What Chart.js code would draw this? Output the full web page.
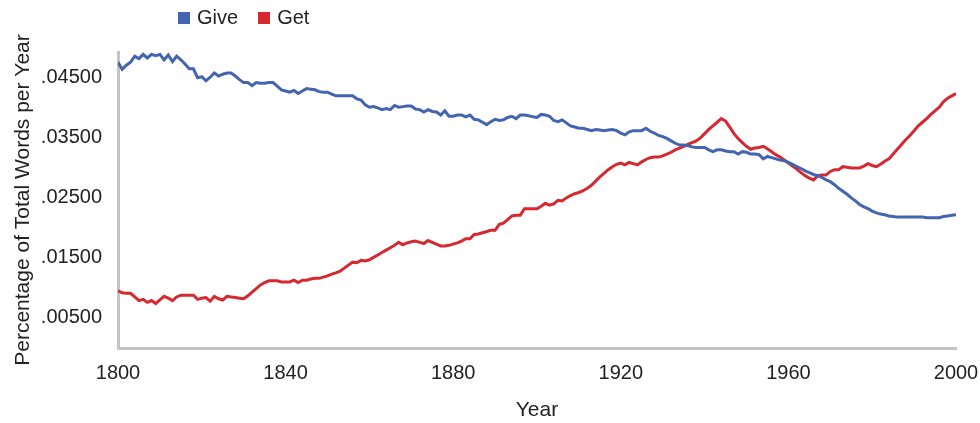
<!DOCTYPE html>
<html>
<head>
<meta charset="utf-8">
<script src="https://cdn.jsdelivr.net/npm/chart.js@4/dist/chart.umd.min.js"></script>
<style>
    html, body { margin: 0; padding: 0; background: #fff; }
    #wrap { position: relative; width: 980px; height: 423px; }
    #legend { position: absolute; left: 178px; top: 6px; display: flex; font: 20px "Liberation Sans", Arial, sans-serif; color: #222; }
    #legend .item { display: flex; align-items: center; margin-right: 20px; }
    #legend .box { width: 12px; height: 12px; margin-right: 7px; }
</style>
</head>
<body>
<div id="wrap">
    <canvas id="wordChart" width="980" height="423"></canvas>
    <div id="legend"></div>
</div>
<script>
// Give vs Get, share of all words per year, 1800-2000
const startYear = 1800;
const endYear = 2000;
const xTickStep = 40;
const yTickValues = [0.005, 0.015, 0.025, 0.035, 0.045];

const giveValues = [
    0.0476, 0.0464, 0.0471, 0.0476, 0.0486, 0.0482, 0.0489, 0.0483, 0.0489, 0.0487,
    0.0489, 0.0480, 0.0488, 0.0477, 0.0486, 0.0480, 0.0473, 0.0465, 0.0465, 0.0450,
    0.0452, 0.0445, 0.0451, 0.0458, 0.0453, 0.0456, 0.0458, 0.0458, 0.0453, 0.0447,
    0.0442, 0.0442, 0.0437, 0.0442, 0.0441, 0.0441, 0.0442, 0.0442, 0.0436, 0.0430,
    0.0428, 0.0426, 0.0429, 0.0424, 0.0428, 0.0432, 0.0431, 0.0430, 0.0427, 0.0426,
    0.0426, 0.0423, 0.0420, 0.0420, 0.0420, 0.0420, 0.0420, 0.0415, 0.0413, 0.0405,
    0.0401, 0.0402, 0.0400, 0.0397, 0.0399, 0.0397, 0.0404, 0.0401, 0.0402, 0.0403,
    0.0403, 0.0398, 0.0397, 0.0393, 0.0397, 0.0394, 0.0393, 0.0388, 0.0395, 0.0386,
    0.0386, 0.0388, 0.0388, 0.0385, 0.0388, 0.0381, 0.0380, 0.0376, 0.0372, 0.0377,
    0.0381, 0.0379, 0.0380, 0.0384, 0.0386, 0.0382, 0.0388, 0.0388, 0.0387, 0.0385,
    0.0384, 0.0389, 0.0388, 0.0386, 0.0379, 0.0377, 0.0380, 0.0375, 0.0370, 0.0368,
    0.0366, 0.0366, 0.0364, 0.0362, 0.0364, 0.0363, 0.0362, 0.0363, 0.0364, 0.0362,
    0.0358, 0.0355, 0.0360, 0.0362, 0.0362, 0.0362, 0.0366, 0.0361, 0.0358, 0.0354,
    0.0352, 0.0349, 0.0345, 0.0341, 0.0338, 0.0338, 0.0337, 0.0335, 0.0334, 0.0334,
    0.0334, 0.0330, 0.0327, 0.0330, 0.0330, 0.0328, 0.0327, 0.0327, 0.0323, 0.0327,
    0.0326, 0.0323, 0.0323, 0.0322, 0.0315, 0.0319, 0.0317, 0.0315, 0.0313, 0.0312,
    0.0309, 0.0306, 0.0302, 0.0299, 0.0295, 0.0292, 0.0289, 0.0287, 0.0284, 0.0280,
    0.0277, 0.0272, 0.0266, 0.0261, 0.0256, 0.0250, 0.0245, 0.0239, 0.0235, 0.0232,
    0.0228, 0.0225, 0.0223, 0.0222, 0.0220, 0.0219, 0.0218, 0.0218, 0.0218, 0.0218,
    0.0218, 0.0218, 0.0218, 0.0217, 0.0217, 0.0217, 0.0217, 0.0219, 0.0220, 0.0221,
    0.0222
];

const getValues = [
    0.0095, 0.0092, 0.0091, 0.0091, 0.0085, 0.0079, 0.0081, 0.0076, 0.0079, 0.0074,
    0.0080, 0.0086, 0.0083, 0.0079, 0.0085, 0.0088, 0.0088, 0.0088, 0.0088, 0.0081,
    0.0083, 0.0084, 0.0078, 0.0086, 0.0082, 0.0080, 0.0086, 0.0085, 0.0084, 0.0083,
    0.0082, 0.0087, 0.0093, 0.0099, 0.0105, 0.0109, 0.0112, 0.0112, 0.0112, 0.0110,
    0.0110, 0.0110, 0.0113, 0.0109, 0.0113, 0.0113, 0.0115, 0.0116, 0.0116, 0.0118,
    0.0120, 0.0123, 0.0125, 0.0128, 0.0133, 0.0138, 0.0143, 0.0142, 0.0146, 0.0145,
    0.0147, 0.0151, 0.0155, 0.0159, 0.0163, 0.0167, 0.0171, 0.0176, 0.0172, 0.0175,
    0.0177, 0.0178, 0.0176, 0.0174, 0.0179, 0.0176, 0.0173, 0.0170, 0.0170, 0.0171,
    0.0173, 0.0175, 0.0178, 0.0182, 0.0182, 0.0189, 0.0190, 0.0192, 0.0194, 0.0196,
    0.0196, 0.0206, 0.0208, 0.0214, 0.0220, 0.0221, 0.0221, 0.0232, 0.0232, 0.0232,
    0.0232, 0.0236, 0.0241, 0.0238, 0.0240, 0.0246, 0.0245, 0.0250, 0.0254, 0.0257,
    0.0259, 0.0262, 0.0266, 0.0271, 0.0278, 0.0285, 0.0291, 0.0297, 0.0302, 0.0306,
    0.0308, 0.0305, 0.0309, 0.0307, 0.0305, 0.0310, 0.0314, 0.0317, 0.0318, 0.0318,
    0.0320, 0.0323, 0.0326, 0.0330, 0.0333, 0.0336, 0.0339, 0.0342, 0.0345, 0.0350,
    0.0357, 0.0364, 0.0370, 0.0376, 0.0382, 0.0378, 0.0368, 0.0357, 0.0349, 0.0342,
    0.0336, 0.0331, 0.0333, 0.0334, 0.0336, 0.0332, 0.0327, 0.0322, 0.0318, 0.0313,
    0.0308, 0.0303, 0.0298, 0.0292, 0.0287, 0.0283, 0.0280, 0.0287, 0.0288, 0.0288,
    0.0294, 0.0297, 0.0297, 0.0302, 0.0301, 0.0300, 0.0300, 0.0300, 0.0303, 0.0307,
    0.0304, 0.0302, 0.0306, 0.0311, 0.0315, 0.0323, 0.0331, 0.0339, 0.0347, 0.0354,
    0.0362, 0.0370, 0.0376, 0.0382, 0.0389, 0.0395, 0.0401, 0.0410, 0.0416, 0.0420,
    0.0424
];

const years = Array.from({ length: endYear - startYear + 1 }, (_, i) => startYear + i);

const seriesNames = ['Give', 'Get'];
const seriesColors = ['#4364b0', '#d6282f'];
const seriesValues = [giveValues, getValues];

const tickFont = { family: '"Liberation Sans", Arial, sans-serif', size: 20 };
const axisGray = '#c4c4c4';

const datasets = seriesNames.map((name, i) => ({
    label: name,
    data: seriesValues[i].map((v, j) => ({ x: years[j], y: v })),
    borderColor: seriesColors[i],
    backgroundColor: seriesColors[i],
    borderWidth: 3,
    pointRadius: 0,
    tension: 0,
    fill: false
}));

const chart = new Chart(document.getElementById('wordChart'), {
    type: 'line',
    data: { datasets: datasets },
    options: {
        responsive: false,
        animation: false,
        layout: { padding: { top: 52, right: 0, left: 0, bottom: 0 } },
        plugins: {
            legend: { display: false },
            tooltip: { enabled: false }
        },
        scales: {
            x: {
                type: 'linear',
                min: startYear,
                max: endYear,
                grid: { display: false },
                border: { display: true, color: axisGray, width: 3 },
                ticks: {
                    stepSize: xTickStep,
                    color: '#222',
                    font: tickFont,
                    padding: 5,
                    maxRotation: 0,
                    callback: v => String(v)
                },
                title: {
                    display: true,
                    text: 'Year',
                    color: '#222',
                    font: { family: tickFont.family, size: 21 },
                    padding: { top: 4, bottom: 0 }
                },
                afterFit: scale => {
                    scale.height = 75;
                    scale.paddingRight = 24;
                }
            },
            y: {
                min: 0,
                max: 0.0493,
                grid: { display: false },
                border: { display: true, color: axisGray, width: 3 },
                afterBuildTicks: scale => {
                    scale.ticks = yTickValues.map(v => ({ value: v }));
                },
                ticks: {
                    color: '#222',
                    font: tickFont,
                    padding: 8,
                    callback: v => v.toFixed(5).replace(/^0/, '')
                },
                title: {
                    display: true,
                    text: 'Percentage of Total Words per Year',
                    color: '#222',
                    font: { family: tickFont.family, size: 21 },
                    padding: { top: 11, bottom: 0 }
                },
                afterFit: scale => { scale.width = 118; }
            }
        }
    }
});

// html legend, sits up near the left like the original
const legendEl = document.getElementById('legend');
legendEl.innerHTML = seriesNames.map((name, i) => `
    <div class="item">
        <span class="box" style="background:${seriesColors[i]}"></span>
        <span>${name}</span>
    </div>
`).join('');
</script>
</body>
</html>
